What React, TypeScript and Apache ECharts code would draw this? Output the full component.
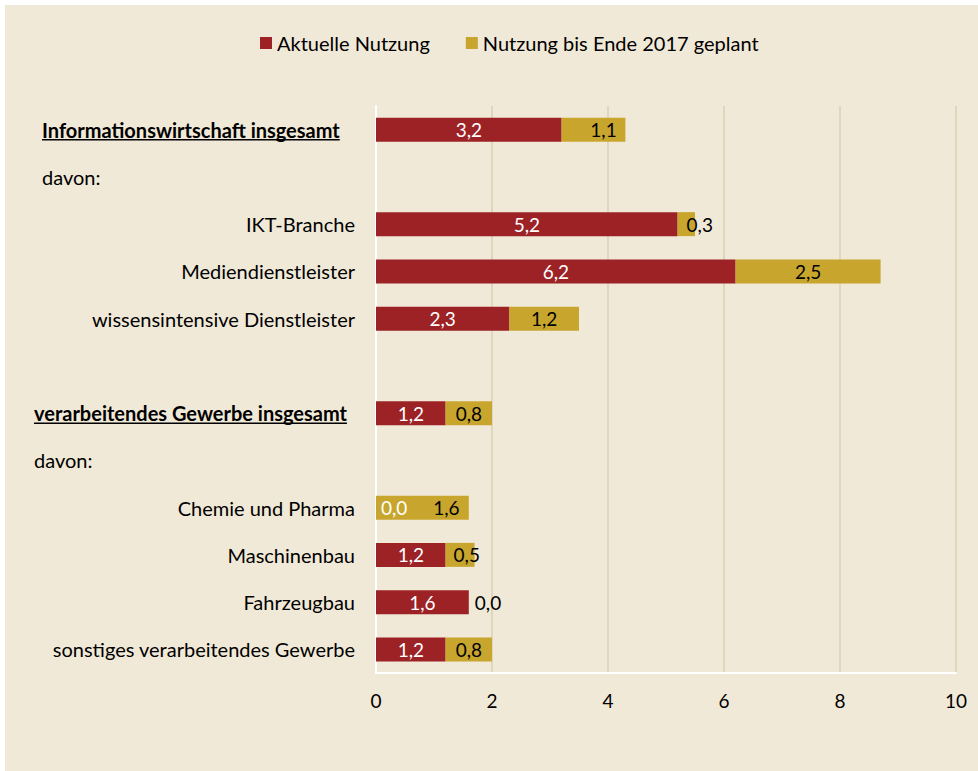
import React, { useEffect, useRef } from "react";
import * as echarts from "echarts";

const categories = [
  "Informationswirtschaft insgesamt",
  "davon:",
  "IKT-Branche",
  "Mediendienstleister",
  "wissensintensive Dienstleister",
  "",
  "verarbeitendes Gewerbe insgesamt",
  "davon:",
  "Chemie und Pharma",
  "Maschinenbau",
  "Fahrzeugbau",
  "sonstiges verarbeitendes Gewerbe",
];
const headerRows = [0, 6];
const davonRows = [1, 7];

const seriesNames = ["Aktuelle Nutzung", "Nutzung bis Ende 2017 geplant"];
const aktuell = [3.2, null, 5.2, 6.2, 2.3, null, 1.2, null, 0.0, 1.2, 1.6, 1.2];
const geplant = [1.1, null, 0.3, 2.5, 1.2, null, 0.8, null, 1.6, 0.5, 0.0, 0.8];

const xTicks = { min: 0, max: 10, interval: 2 };

const FONT = "Lato";
const FS = 20;
const FSV = 19;
const RED = "#9C2226";
const GOLD = "#C8A62E";
const BG = "#F1E9D7";

const fmt = (v: number) => v.toFixed(1).replace(".", ",");

const aktuellTweaks: Record<number, any> = {
  8: { position: "insideLeft", distance: 5 },
};
const geplantTweaks: Record<number, any> = {
  0: { offset: [10, 0] },
  2: { position: "insideLeft", distance: 9 },
  8: { offset: [24, 0] },
  9: { position: "insideLeft", distance: 8 },
  10: { position: "insideLeft", distance: 6 },
};

function build(values: (number | null)[], tweaks: Record<number, any>) {
  return values.map((v, i) =>
    v === null ? "-" : tweaks[i] ? { value: v, label: tweaks[i] } : v
  );
}

export default function App() {
  const ref = useRef<HTMLDivElement>(null);
  useEffect(() => {
    if (!ref.current) return;
    const chart = echarts.init(ref.current, null, { renderer: "svg" });
    const headerW = [313, 321];
    chart.setOption({
      animation: false,
      backgroundColor: BG,
      textStyle: { fontFamily: FONT },
      legend: {
        left: 250,
        top: 23,
        icon: "rect",
        itemWidth: 12,
        itemHeight: 12,
        itemGap: 36,
        textStyle: { fontFamily: FONT, fontSize: FS, color: "#000" },
        data: seriesNames,
      },
      grid: { left: 371, right: 22, top: 101, bottom: 98, containLabel: false },
      xAxis: {
        type: "value",
        min: xTicks.min,
        max: xTicks.max,
        interval: xTicks.interval,
        axisLine: { show: true, lineStyle: { color: "#FFFFFF", width: 2 } },
        axisTick: { show: false },
        axisLabel: { fontFamily: FONT, fontSize: FSV, color: "#000", margin: 18 },
        splitLine: { show: true, lineStyle: { color: "#D9CFB4", width: 1.5 } },
      },
      yAxis: {
        type: "category",
        inverse: true,
        data: categories,
        axisLine: { show: true, lineStyle: { color: "#FFFFFF", width: 2 } },
        axisTick: { show: false },
        splitLine: { show: false },
        axisLabel: {
          margin: 21,
          fontFamily: FONT,
          fontSize: FS,
          color: "#000",
          interval: 0,
          formatter: (value: string, index: number) => {
            const h = headerRows.indexOf(index);
            if (h >= 0) return `{h${h}|${value}}`;
            const d = davonRows.indexOf(index);
            if (d >= 0) return `{d${d}|${value}}`;
            return value;
          },
          rich: {
            h0: { fontFamily: FONT, fontSize: FS, fontWeight: "bold", color: "#000", width: headerW[0], align: "left" },
            h1: { fontFamily: FONT, fontSize: FS, fontWeight: "bold", color: "#000", width: headerW[1], align: "left" },
            d0: { fontFamily: FONT, fontSize: FS, color: "#000", width: headerW[0], align: "left" },
            d1: { fontFamily: FONT, fontSize: FS, color: "#000", width: headerW[1], align: "left" },
          },
        },
      },
      series: [
        {
          name: seriesNames[0],
          type: "bar",
          stack: "total",
          barWidth: 24,
          itemStyle: { color: RED },
          label: {
            show: true,
            position: "inside",
            color: "#FFFFFF",
            fontFamily: FONT,
            fontSize: FSV,
            formatter: (p: any) => fmt(p.value),
          },
          data: build(aktuell, aktuellTweaks),
        },
        {
          name: seriesNames[1],
          type: "bar",
          stack: "total",
          barWidth: 24,
          itemStyle: { color: GOLD },
          label: {
            show: true,
            position: "inside",
            color: "#000",
            fontFamily: FONT,
            fontSize: FSV,
            formatter: (p: any) => fmt(p.value),
          },
          data: build(geplant, geplantTweaks),
        },
      ],
    });

    // underlines for header labels
    const canvas = document.createElement("canvas");
    const ctx = canvas.getContext("2d")!;
    ctx.font = `bold ${FS}px ${FONT}`;
    const gridLeft = 371;
    const lines = headerRows.map((row, k) => {
      const y = chart.convertToPixel({ yAxisIndex: 0 }, row) as number;
      const x0 = gridLeft - 21 - headerW[k];
      const w = ctx.measureText(categories[row]).width;
      return {
        type: "line",
        shape: { x1: x0, y1: y + 10, x2: x0 + w, y2: y + 10 },
        style: { stroke: "#000", lineWidth: 1.5 },
        silent: true,
      };
    });
    chart.setOption({ graphic: lines });
    return () => chart.dispose();
  }, []);
  return (
    <div style={{ position: "fixed", left: 0, top: 0, width: 978, height: 771, background: "#FFFFFF" }}>
      <div ref={ref} style={{ position: "absolute", left: 5, top: 5, width: 973, height: 766 }} />
    </div>
  );
}
